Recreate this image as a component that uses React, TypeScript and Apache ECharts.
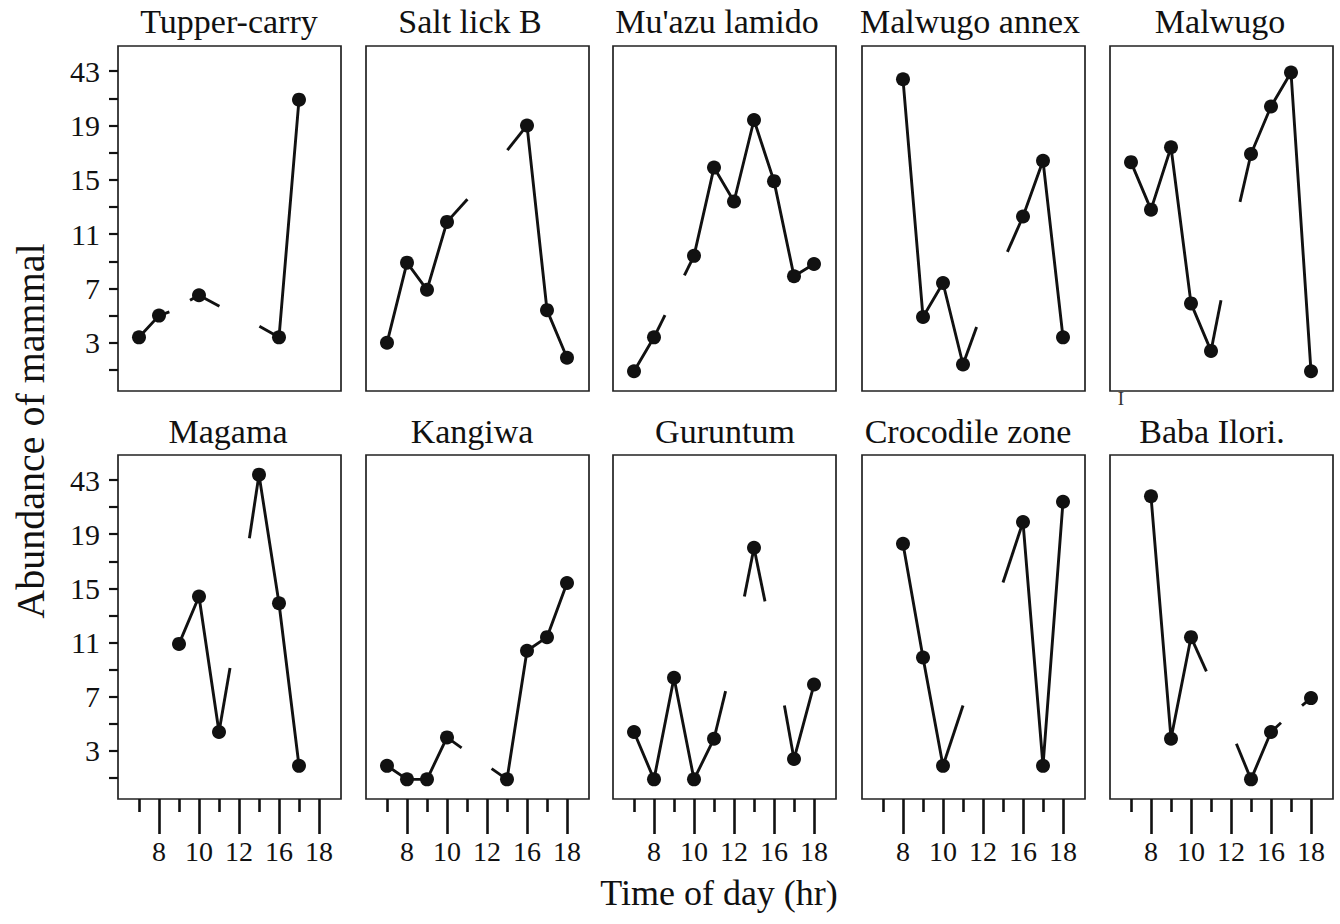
import React, { useEffect, useRef } from "react";
import * as echarts from "echarts";

// ---------- data ----------
const SITES = [
  "Tupper-carry",
  "Salt lick B",
  "Mu'azu lamido",
  "Malwugo annex",
  "Malwugo",
  "Magama",
  "Kangiwa",
  "Guruntum",
  "Crocodile zone",
  "Baba Ilori.",
];

// hour slots (index 0..9); labelled slots: 8, 10, 12, 16, 18
const X_MAJOR_TICKS = [1, 3, 5, 7, 9];
const X_MINOR_TICKS = [0, 2, 4, 6, 8];
const X_TICK_LABELS = ["8", "10", "12", "16", "18"];

const Y_TICKS = [1, 3, 5, 7, 9, 11, 13, 15, 17, 19, 21, 23];
const Y_LABEL_POSITIONS = [3, 7, 11, 15, 19, 23];
const Y_TICK_LABELS = ["3", "7", "11", "15", "19", "43"];

const tupperCarry = [3.4, 5.0, null, 6.5, null, null, null, 3.4, 20.9, null];
const saltLickB = [3.0, 8.9, 6.9, 11.9, null, null, null, 19.0, 5.4, 1.9];
const muazuLamido = [0.9, 3.4, null, 9.4, 15.9, 13.4, 19.4, 14.9, 7.9, 8.8];
const malwugoAnnex = [null, 22.4, 4.9, 7.4, 1.4, null, null, 12.3, 16.4, 3.4];
const malwugo = [16.3, 12.8, 17.4, 5.9, 2.4, null, 16.9, 20.4, 22.9, 0.9];
const magama = [null, null, 10.9, 14.4, 4.4, null, 23.4, 13.9, 1.9, null];
const kangiwa = [1.9, 0.9, 0.9, 4.0, null, null, 0.9, 10.4, 11.4, 15.4];
const guruntum = [4.4, 0.9, 8.4, 0.9, 3.9, null, 18.0, null, 2.4, 7.9];
const crocodileZone = [null, 18.3, 9.9, 1.9, null, null, null, 19.9, 1.9, 21.4];
const babaIlori = [null, 21.8, 3.9, 11.4, null, null, 0.9, 4.4, null, 6.9];

// dangling segments: [from slot, to x, to y]
const tupperCarryStubs = [[1, 1.52, 5.27], [3, 2.55, 6.13], [3, 4.02, 5.69], [7, 6.02, 4.22]];
const saltLickBStubs = [[3, 4.02, 13.57], [7, 6.02, 17.18]];
const muazuLamidoStubs = [[1, 1.55, 5.03], [3, 2.52, 7.97]];
const malwugoAnnexStubs = [[4, 4.68, 4.17], [7, 6.22, 9.69]];
const malwugoStubs = [[4, 4.5, 6.13], [6, 5.45, 13.37]];
const magamaStubs = [[4, 4.55, 9.13], [6, 5.52, 18.7]];
const kangiwaStubs = [[3, 3.73, 3.23], [6, 5.23, 1.69]];
const guruntumStubs = [[4, 4.58, 7.41], [6, 5.52, 14.4], [6, 6.55, 14.04], [8, 7.52, 6.35]];
const crocodileZoneStubs = [[3, 4.0, 6.35], [7, 6.0, 15.44]];
const babaIloriStubs = [[3, 3.77, 8.88], [6, 5.27, 3.53], [7, 7.5, 5.08], [9, 8.55, 6.35]];

const SERIES = [tupperCarry, saltLickB, muazuLamido, malwugoAnnex, malwugo, magama, kangiwa, guruntum, crocodileZone, babaIlori];
const STUBS = [tupperCarryStubs, saltLickBStubs, muazuLamidoStubs, malwugoAnnexStubs, malwugoStubs, magamaStubs, kangiwaStubs, guruntumStubs, crocodileZoneStubs, babaIloriStubs];

// ---------- layout ----------
const COL_LEFT = [118, 366, 613, 862, 1110];
const PANEL_W = 223;
const ROW_TOP = [46, 455];
const ROW_H = [345, 344];
const TITLE_X = [229, 470, 717, 970, 1220, 228, 472, 725, 968, 1212];
const TITLE_Y = [21, 431];
const FONT = "'Liberation Serif', 'Times New Roman', serif";
const INK = "#111";

function buildOption() {
  const grid: any[] = [];
  const xAxis: any[] = [];
  const yAxis: any[] = [];
  const series: any[] = [];
  const graphic: any[] = [];

  SITES.forEach((site, g) => {
    const row = g < 5 ? 0 : 1;
    const col = g % 5;
    grid.push({
      left: COL_LEFT[col],
      top: ROW_TOP[row],
      width: PANEL_W,
      height: ROW_H[row],
      show: true,
      borderColor: "#222",
      borderWidth: 1.7,
      backgroundColor: "transparent",
      containLabel: false,
    });

    const mainX = xAxis.length;
    xAxis.push({
      type: "value",
      gridIndex: g,
      min: -1.05,
      max: 10.1,
      position: "bottom",
      show: row === 1,
      axisLine: { show: false, onZero: false },
      splitLine: { show: false },
      axisLabel: { show: false },
      axisTick: {
        show: row === 1,
        customValues: X_MINOR_TICKS,
        length: 13,
        lineStyle: { color: INK, width: 2.6 },
      },
    });
    if (row === 1) {
      xAxis.push({
        type: "value",
        gridIndex: g,
        min: -1.05,
        max: 10.1,
        position: "bottom",
        offset: 0,
        axisLine: { show: false, onZero: false },
        splitLine: { show: false },
        axisTick: {
          show: true,
          customValues: X_MAJOR_TICKS,
          length: 35,
          lineStyle: { color: INK, width: 2.6 },
        },
        axisLabel: {
          show: true,
          customValues: X_MAJOR_TICKS,
          margin: 38,
          fontFamily: FONT,
          fontSize: 28,
          color: INK,
          formatter: (v: number) => X_TICK_LABELS[X_MAJOR_TICKS.indexOf(Math.round(v))] ?? "",
        },
      });
    }

    yAxis.push({
      type: "value",
      gridIndex: g,
      min: -0.55,
      max: 24.85,
      position: "left",
      show: col === 0,
      axisLine: { show: false, onZero: false },
      splitLine: { show: false },
      axisTick: {
        show: col === 0,
        customValues: Y_TICKS,
        length: 9,
        lineStyle: { color: INK, width: 2.2 },
      },
      axisLabel: {
        show: col === 0,
        customValues: Y_LABEL_POSITIONS,
        margin: 18,
        fontFamily: FONT,
        fontSize: 30,
        color: INK,
        formatter: (v: number) => Y_TICK_LABELS[Y_LABEL_POSITIONS.indexOf(Math.round(v))] ?? "",
      },
    });

    const values = SERIES[g];
    STUBS[g].forEach((s) => {
      const from = s[0];
      series.push({
        type: "line",
        xAxisIndex: mainX,
        yAxisIndex: g,
        data: [
          [from, values[from]],
          [s[1], s[2]],
        ],
        showSymbol: false,
        symbol: "none",
        silent: true,
        lineStyle: { color: INK, width: 2.9 },
        z: 2,
      });
    });

    series.push({
      type: "line",
      name: site,
      xAxisIndex: mainX,
      yAxisIndex: g,
      data: values.map((v, i) => [i, v == null ? "-" : v]),
      connectNulls: false,
      symbol: "circle",
      symbolSize: 14,
      showSymbol: true,
      showAllSymbol: true,
      silent: true,
      itemStyle: { color: INK, borderWidth: 0 },
      lineStyle: { color: INK, width: 2.9 },
      z: 3,
    });

    graphic.push({
      type: "text",
      x: TITLE_X[g],
      y: TITLE_Y[row],
      style: {
        text: site,
        fontFamily: FONT,
        fontSize: 34,
        fill: INK,
        align: "center",
        verticalAlign: "middle",
      },
    });
  });

  graphic.push({
    type: "text",
    x: 30,
    y: 431,
    rotation: Math.PI / 2,
    style: {
      text: "Abundance of mammal",
      fontFamily: FONT,
      fontSize: 40,
      fill: INK,
      align: "center",
      verticalAlign: "middle",
    },
  });
  graphic.push({
    type: "text",
    x: 719,
    y: 893,
    style: {
      text: "Time of day (hr)",
      fontFamily: FONT,
      fontSize: 36,
      fill: INK,
      align: "center",
      verticalAlign: "middle",
    },
  });
  graphic.push({
    type: "text",
    x: 1121,
    y: 398,
    style: {
      text: "I",
      fontFamily: FONT,
      fontSize: 19,
      fill: "#333",
      align: "center",
      verticalAlign: "middle",
    },
  });

  return {
    animation: false,
    backgroundColor: "#ffffff",
    grid,
    xAxis,
    yAxis,
    series,
    graphic,
    tooltip: { show: false },
  };
}

export default function App() {
  const ref = useRef<HTMLDivElement>(null);
  useEffect(() => {
    if (!ref.current) return;
    const chart = echarts.init(ref.current, undefined, { renderer: "svg" });
    chart.setOption(buildOption() as any);
    return () => chart.dispose();
  }, []);
  return (
    <div
      ref={ref}
      style={{ position: "absolute", left: 0, top: 0, width: 1340, height: 924, background: "#fff" }}
    />
  );
}
